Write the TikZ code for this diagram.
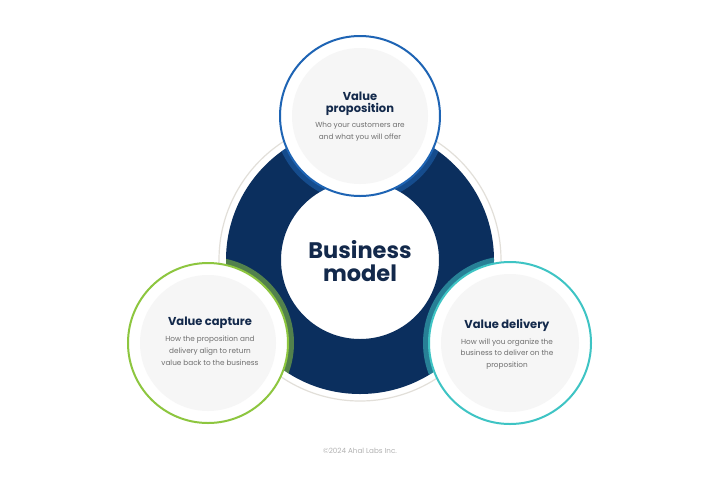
\documentclass[tikz,border=0pt]{standalone}
\usepackage{fontspec}
\setmainfont{Poppins}
\definecolor{navy}{HTML}{0B2F5E}
\definecolor{txtnavy}{HTML}{13294B}
\definecolor{bluec}{HTML}{1E64B4}
\definecolor{greenc}{HTML}{8DC63F}
\definecolor{tealc}{HTML}{3EC4C4}
\definecolor{ringgray}{HTML}{E2DFD9}
\definecolor{diskgray}{HTML}{F6F6F6}
\definecolor{bodygray}{HTML}{6E6E6E}
\begin{document}
\begin{tikzpicture}[x=1pt,y=-1pt,
  head/.style={font=\fontsize{11.5}{13}\selectfont\bfseries, text=txtnavy, align=center, inner sep=0pt},
  body/.style={font=\fontsize{7.3}{11.8}\selectfont, text=bodygray, align=center, inner sep=0pt},
  petal/.style={circle, fill=white, draw=#1, line width=2pt, inner sep=0pt},
]
\useasboundingbox (0,0) rectangle (720,491);
\fill[white] (0,0) rectangle (720,491);

% outer thin ring and dark ring
\coordinate (c) at (360,260);
\draw[ringgray, line width=1.2pt] (c) circle[radius=141];
\fill[navy, even odd rule] (c) circle[radius=134] (c) circle[radius=79];
\node[circle, minimum size=158pt, inner sep=0pt] (core) at (c) {};

% petal circles
\foreach \n/\x/\y/\r/\col in {top/360/116/80/bluec, left/208/343/80/greenc, right/510/343/81/tealc}{
  \begin{scope}[even odd rule]
    \clip (c) circle[radius=134] (c) circle[radius=79];
    \draw[\col, opacity=0.55, line width=6pt] (\x,\y) circle[radius=\r+3];
  \end{scope}
  \node[petal=\col, minimum size=2*\r pt] (\n) at (\x,\y) {};
  \fill[diskgray] (\x,\y) circle[radius=\r-12];
}

% texts
\node[head] (tph) at (360,104) {Value\\[-1pt]proposition};
\node[body] (tpb) at (360,132) {Who your customers are\\and what you will offer};

\node[font=\fontsize{22.5}{23}\selectfont\bfseries, text=txtnavy, align=center, inner sep=0pt] (bm) at (360,261) {Business\\model};

\node[head] (lch) at (210,323) {Value capture};
\node[body] (lcb) at (210,351) {How the proposition and\\delivery align to return\\value back to the business};

\node[head] (rdh) at (507,325) {Value delivery};
\node[body] (rdb) at (507,354) {How will you organize the\\business to deliver on the\\proposition};

\node[font=\fontsize{7.2}{8}\selectfont, text=gray!60, inner sep=0pt] (copy) at (360,451) {©2024 Ahal Labs Inc.};
\end{tikzpicture}
\end{document}
